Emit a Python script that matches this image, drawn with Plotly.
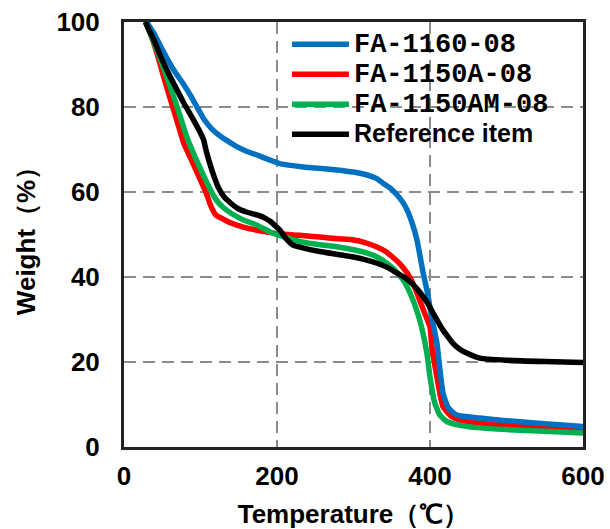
import plotly.graph_objects as go

# ---- data ----
blue_T = [30, 33, 39, 50, 65, 78, 88, 97, 105, 115, 127, 140, 148, 160, 174, 191, 205, 234, 278, 300, 318, 330, 339, 348, 357, 364, 370, 377, 383, 391, 397, 402, 409, 413, 417, 424, 435, 465, 500, 550, 600]
blue_W = [100, 99, 97.4, 93.5, 88.7, 85.3, 82.4, 79.5, 77, 74.8, 73, 71.5, 70.6, 69.6, 68.7, 67.5, 66.6, 65.9, 65.2, 64.7, 64, 63.2, 62, 60.9, 59.3, 57.7, 55.8, 52.5, 48.7, 41, 36, 30.7, 24.5, 18.1, 12.7, 9.2, 7.5, 6.8, 6.2, 5.5, 4.8]

red_T = [28, 35, 43, 52, 61, 70, 78, 90, 100, 108, 114, 120, 130, 140, 155, 174, 190, 205, 230, 256, 280, 300, 315, 330, 342, 351, 360, 370, 377, 383, 387, 393, 400, 402, 409, 417, 428, 439, 465, 500, 550, 600]
red_W = [100, 97, 92.7, 87, 81.6, 76.3, 71.5, 66.8, 62.8, 59.5, 56.5, 54.6, 53.6, 52.7, 51.8, 51, 50.5, 50.1, 49.8, 49.4, 49, 48.7, 48.1, 47.1, 46, 44.7, 43.2, 41, 38.8, 36.2, 34.3, 31.5, 28.2, 24.4, 16.5, 9.5, 7.2, 6.4, 5.6, 5.1, 4.6, 4.0]

green_T = [28, 35, 43, 54, 65, 74, 82, 93, 105, 113, 121, 130, 140, 155, 174, 191, 205, 234, 256, 278, 300, 318, 332, 343, 352, 365, 374, 382, 389, 396, 400, 406, 413, 422, 439, 465, 500, 550, 600]
green_W = [100, 97, 93.4, 88, 82.4, 77.5, 73, 68.2, 63.5, 60.5, 58, 56.3, 55, 53.5, 52.2, 50.6, 49.7, 48.2, 47.6, 47.1, 46.4, 45.6, 44.6, 43.3, 42, 39.3, 36.2, 32.5, 28.2, 22, 16.5, 10.5, 7.5, 6.0, 5.1, 4.5, 4.1, 3.7, 3.3]

black_T = [28, 33, 39, 47, 56, 67, 78, 90, 100, 104, 107, 112, 118, 124, 131, 140, 148, 160, 174, 185, 192, 198, 204, 212, 221, 235, 256, 280, 300, 315, 330, 345, 357, 366, 374, 383, 391, 398, 404, 411, 417, 424, 430, 439, 448, 465, 500, 550, 600]
black_W = [100, 98, 95.8, 92.3, 88.7, 84.8, 81, 77.2, 73.9, 72.3, 70, 66.8, 63.5, 60.8, 58.8, 57.3, 56.2, 55.3, 54.6, 53.8, 53, 52, 51, 49, 47.5, 46.8, 46, 45.3, 44.7, 44.1, 43.3, 42.2, 40.9, 40.0, 38.9, 37.2, 35.4, 33.5, 31.5, 29.3, 27.5, 25.8, 24.4, 23.0, 22.1, 20.9, 20.4, 20.1, 19.9]

names = ["FA-1160-08", "FA-1150A-08", "FA-1150AM-08", "Reference item"]
colors = ["#0070C0", "#FF0000", "#00B050", "#000000"]

x_ticks = [0, 200, 400, 600]
y_ticks = [0, 20, 40, 60, 80, 100]

mono = "font-family:'Liberation Mono';font-size:27px;font-weight:bold"
sans = "font-family:'Liberation Sans';font-size:25px;font-weight:bold"
labels = [f'<span style="{mono}">{names[0]}</span>',
          f'<span style="{mono}">{names[1]}</span>',
          f'<span style="{mono}">{names[2]}</span>',
          f'<span style="{sans}">{names[3]}</span>']

series = [(blue_T, blue_W), (red_T, red_W), (green_T, green_W), (black_T, black_W)]
draw_order = [1, 0, 2, 3]

fig = go.Figure()
for i in draw_order:
    t, w = series[i]
    fig.add_trace(go.Scatter(x=t, y=w, mode="lines", name=labels[i],
                             line=dict(color=colors[i], width=5.5, shape="spline", smoothing=0.5),
                             legendrank=i + 1))

tick_font = dict(family="Liberation Sans", size=26, color="black", weight="bold")
title_font = dict(family="Liberation Sans", size=26, color="black", weight="bold")

fig.update_layout(
    width=610, height=529,
    margin=dict(l=124, r=27, t=22, b=82, autoexpand=False),
    paper_bgcolor="white", plot_bgcolor="white",
    showlegend=True,
    legend=dict(x=0.355, y=0.995, xanchor="left", yanchor="top",
                bgcolor="rgba(0,0,0,0)", itemwidth=57,
                font=dict(size=20.8, color="black"), tracegroupgap=0),
    xaxis=dict(range=[0, 600], tickvals=x_ticks, ticktext=[str(v) for v in x_ticks],
               showgrid=True, gridcolor="#8c8c8c", gridwidth=1.5, griddash="12px,7px",
               zeroline=False, showline=True, linecolor="#222", linewidth=3, mirror=True,
               ticks="", ticklen=0, tickfont=tick_font, ticklabelstandoff=4, automargin=False,
               title=dict(text="Temperature（℃）", font=title_font, standoff=16)),
    yaxis=dict(range=[0, 100], tickvals=y_ticks, ticktext=[str(v) for v in y_ticks],
               showgrid=True, gridcolor="#8c8c8c", gridwidth=1.5, griddash="12px,7px",
               zeroline=False, showline=True, linecolor="#222", linewidth=3, mirror=True,
               ticks="", ticklen=0, tickfont=tick_font, ticklabelstandoff=16, automargin=False,
               title=dict(text="Weight（%）", font=title_font, standoff=14)),
)

fig.write_html("out.html", config={"displayModeBar": False},
               post_script="document.body.style.margin='0';")
